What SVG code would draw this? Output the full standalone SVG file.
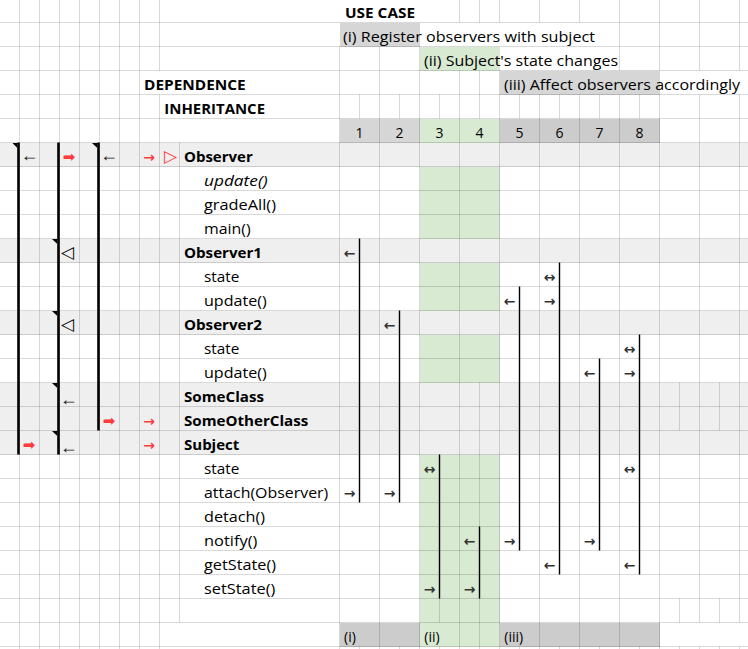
<svg xmlns="http://www.w3.org/2000/svg" width="748" height="649" viewBox="0 0 748 649">
<style>
text{font-family:"Open Sans","Liberation Sans",sans-serif;font-size:14px;fill:#000}
.b{font-weight:bold}
.i{font-style:italic}
.n{text-anchor:middle}
.grid{stroke:#000;stroke-opacity:0.15;stroke-width:1;fill:none}
.thick{stroke:#000;stroke-width:2.6;fill:none}
.thin{stroke:#000;stroke-width:1.4;fill:none}
.ar{font-family:"DejaVu Sans",sans-serif;font-size:14px;font-weight:bold;fill:#333;text-anchor:middle}
.al{font-family:"Liberation Sans",sans-serif;font-size:18px;fill:#222;text-anchor:middle}
.hv{font-family:"DejaVu Sans",sans-serif;font-size:15px;fill:#ff3b3b;text-anchor:middle}
.tri{font-family:"DejaVu Sans",sans-serif;font-size:17px;text-anchor:middle}
.red{fill:#ff3b3b}
.rowbg{fill:#efefef}
.green{fill:#d9ead3}
.g1{fill:#d6d6d6}
.g2{fill:#cccccc}
</style>
<rect width="748" height="649" fill="#fff"/>
<g id="backgrounds">
<rect class="rowbg" x="0" y="143" width="748" height="24"/>
<rect class="rowbg" x="0" y="239" width="748" height="24"/>
<rect class="rowbg" x="0" y="311" width="748" height="24"/>
<rect class="rowbg" x="0" y="383" width="748" height="72"/>
<rect class="green" x="420" y="47" width="80" height="24"/>
<rect class="green" x="420" y="119" width="80" height="24"/>
<rect class="green" x="420" y="167" width="80" height="72"/>
<rect class="green" x="420" y="263" width="80" height="48"/>
<rect class="green" x="420" y="335" width="80" height="48"/>
<rect class="green" x="420" y="455" width="80" height="192"/>
<rect class="g1" x="340" y="23" width="80" height="24"/>
<rect class="g1" x="500" y="71" width="160" height="24"/>
<rect class="g1" x="340" y="119" width="80" height="24"/>
<rect class="g2" x="500" y="119" width="160" height="24"/>
<rect class="g2" x="340" y="623" width="80" height="24"/>
<rect class="g2" x="500" y="623" width="160" height="24"/>
</g>
<g id="grid">
<path class="grid" d="M0 22.5H748M0 46.5H748M0 70.5H748M0 94.5H748M0 118.5H748M0 142.5H748M0 166.5H748M0 190.5H748M0 214.5H748M0 238.5H748M0 262.5H748M0 286.5H748M0 310.5H748M0 334.5H748M0 358.5H748M0 382.5H748M0 406.5H748M0 430.5H748M0 454.5H748M0 478.5H748M0 502.5H748M0 526.5H748M0 550.5H748M0 574.5H748M0 598.5H748M0 622.5H748M0 646.5H748"/>
<path class="grid" d="M19.5 0V649M39.5 0V649M59.5 0V649M79.5 0V649M99.5 0V649M119.5 0V649M139.5 0V649M159.5 0V70.5M159.5 94.5V649M179.5 142.5V622.5"/>
<path class="grid" d="M339.5 46.5V649M379.5 46.5V649M419.5 46.5V649M459.5 0V22.5M459.5 70.5V649M499.5 0V22.5M499.5 70.5V649M539.5 0V22.5M539.5 94.5V649M579.5 0V22.5M579.5 94.5V649M619.5 0V70.5M619.5 94.5V649M659.5 0V70.5M659.5 94.5V649M699.5 0V70.5M699.5 94.5V622.5M699.5 646.5V649M739.5 0V70.5M739.5 94.5V622.5M739.5 646.5V649"/>
<path class="grid" d="M479.5 0V22.5M479.5 70.5V118.5M479.5 382.5V649M439.5 94.5V118.5M439.5 454.5V622.5M439.5 646.5V649M359.5 94.5V118.5M359.5 646.5V649M399.5 94.5V118.5M399.5 646.5V649M519.5 94.5V118.5M519.5 646.5V649M559.5 94.5V118.5M559.5 646.5V649M599.5 94.5V118.5M599.5 646.5V649M639.5 94.5V118.5M639.5 646.5V649M679.5 382.5V430.5M679.5 598.5V622.5M679.5 646.5V649M719.5 382.5V430.5M719.5 598.5V622.5M719.5 646.5V649"/>
</g>
<g id="header">
<text class="b" x="345" y="17.5" textLength="70" lengthAdjust="spacingAndGlyphs">USE CASE</text>
<text x="343" y="41.5" textLength="252" lengthAdjust="spacingAndGlyphs">(i) Register observers with subject</text>
<text x="424" y="65.5" textLength="194" lengthAdjust="spacingAndGlyphs">(ii) Subject's state changes</text>
<text class="b" x="144" y="89.5" textLength="101.7" lengthAdjust="spacingAndGlyphs">DEPENDENCE</text>
<text x="504" y="89.5" textLength="236" lengthAdjust="spacingAndGlyphs">(iii) Affect observers accordingly</text>
<text class="b" x="164.3" y="113.5" textLength="100.7" lengthAdjust="spacingAndGlyphs">INHERITANCE</text>
<text class="n" x="359.5" y="137.5">1</text>
<text class="n" x="399.5" y="137.5">2</text>
<text class="n" x="439.5" y="137.5">3</text>
<text class="n" x="479.5" y="137.5">4</text>
<text class="n" x="519.5" y="137.5">5</text>
<text class="n" x="559.5" y="137.5">6</text>
<text class="n" x="599.5" y="137.5">7</text>
<text class="n" x="639.5" y="137.5">8</text>
<text x="344" y="641.5">(i)</text>
<text x="424.3" y="641.5">(ii)</text>
<text x="504.3" y="641.5">(iii)</text>
</g>
<g id="node-observer">
<text class="b" x="184" y="161.5" textLength="68.7" lengthAdjust="spacingAndGlyphs">Observer</text>
<text class="i" x="204" y="185.5" textLength="63.7" lengthAdjust="spacingAndGlyphs">update()</text>
<text x="204" y="209.5" textLength="72" lengthAdjust="spacingAndGlyphs">gradeAll()</text>
<text x="204" y="233.5" textLength="46.7" lengthAdjust="spacingAndGlyphs">main()</text>
</g>
<g id="node-observer1">
<text class="b" x="184" y="257.5" textLength="78" lengthAdjust="spacingAndGlyphs">Observer1</text>
<text x="204" y="281.5" textLength="35.3" lengthAdjust="spacingAndGlyphs">state</text>
<text x="204" y="305.5" textLength="62.7" lengthAdjust="spacingAndGlyphs">update()</text>
</g>
<g id="node-observer2">
<text class="b" x="184" y="329.5" textLength="78" lengthAdjust="spacingAndGlyphs">Observer2</text>
<text x="204" y="353.5" textLength="35.3" lengthAdjust="spacingAndGlyphs">state</text>
<text x="204" y="377.5" textLength="62.7" lengthAdjust="spacingAndGlyphs">update()</text>
</g>
<g id="node-someclass">
<text class="b" x="184" y="401.5" textLength="80" lengthAdjust="spacingAndGlyphs">SomeClass</text>
</g>
<g id="node-someotherclass">
<text class="b" x="184" y="425.5" textLength="124.3" lengthAdjust="spacingAndGlyphs">SomeOtherClass</text>
</g>
<g id="node-subject">
<text class="b" x="184" y="449.5" textLength="55.3" lengthAdjust="spacingAndGlyphs">Subject</text>
<text x="204" y="473.5" textLength="35.3" lengthAdjust="spacingAndGlyphs">state</text>
<text x="204" y="497.5" textLength="124.3" lengthAdjust="spacingAndGlyphs">attach(Observer)</text>
<text x="204" y="521.5" textLength="61" lengthAdjust="spacingAndGlyphs">detach()</text>
<text x="204" y="545.5" textLength="53.3" lengthAdjust="spacingAndGlyphs">notify()</text>
<text x="204" y="569.5" textLength="72" lengthAdjust="spacingAndGlyphs">getState()</text>
<text x="204" y="593.5" textLength="71.3" lengthAdjust="spacingAndGlyphs">setState()</text>
</g>
<g id="connectors">
<path class="thick" d="M18.5 142.5V454.5M58.5 142.5V454.5M98.5 142.5V430.5"/>
<path fill="#000" d="M12.5 143H17.3V148ZM92 143H97.3V148ZM52 239H57.3V244ZM52 311H57.3V316ZM52 383H57.3V388ZM52 431H57.3V436Z"/>
<path class="thin" d="M359.5 238.5V502.5M399.5 310.5V502.5M439.5 454.5V598.5M479.5 526.5V598.5M519.5 286.5V550.5M559.5 262.5V574.5M599.5 358.5V550.5M639.5 334.5V574.5"/>
<text class="al" x="29.5" y="160.5">←</text>
<text class="hv" x="69" y="162">➡</text>
<text class="al" x="109" y="160.5">←</text>
<text class="ar red" x="149" y="161.5">→</text>
<text class="tri red" x="170.5" y="161.5">▷</text>
<text class="tri" x="67.5" y="257.5" fill="#555">◁</text>
<text class="tri" x="67.5" y="329.5" fill="#555">◁</text>
<text class="al" x="68.7" y="404.5">←</text>
<text class="hv" x="109" y="426">➡</text>
<text class="ar red" x="149" y="425.5">→</text>
<text class="hv" x="29" y="450">➡</text>
<text class="al" x="68.7" y="452.5">←</text>
<text class="ar red" x="149" y="449.5">→</text>
<text class="ar" x="349.5" y="258">←</text>
<text class="ar" x="389.5" y="330">←</text>
<text class="ar" x="349.5" y="498">→</text>
<text class="ar" x="389.5" y="498">→</text>
<text class="ar" x="429.5" y="474">↔</text>
<text class="ar" x="629.5" y="474">↔</text>
<text class="ar" x="429.5" y="594">→</text>
<text class="ar" x="469.5" y="594">→</text>
<text class="ar" x="469.5" y="546">←</text>
<text class="ar" x="509.5" y="546">→</text>
<text class="ar" x="589.5" y="546">→</text>
<text class="ar" x="509.5" y="306">←</text>
<text class="ar" x="549.5" y="306">→</text>
<text class="ar" x="549.5" y="282">↔</text>
<text class="ar" x="549.5" y="570">←</text>
<text class="ar" x="629.5" y="570">←</text>
<text class="ar" x="589.5" y="378">←</text>
<text class="ar" x="629.5" y="378">→</text>
<text class="ar" x="629.5" y="354">↔</text>
</g>
</svg>
